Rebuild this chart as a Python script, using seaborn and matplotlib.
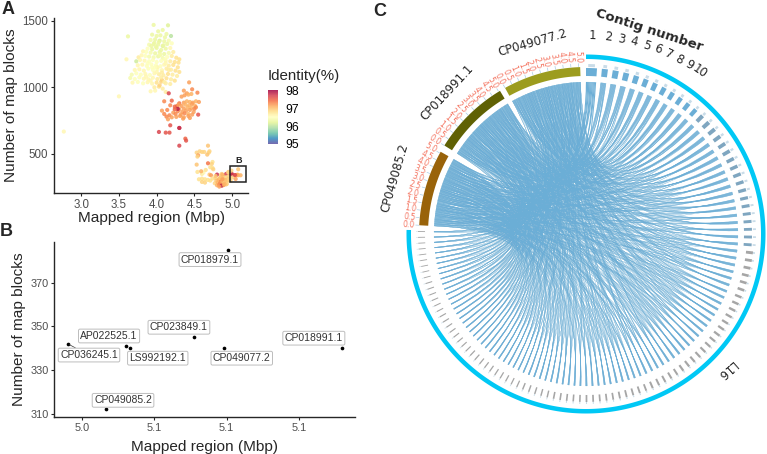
import numpy as np
import pandas as pd
import matplotlib
matplotlib.use("Agg")
import matplotlib.pyplot as plt
from matplotlib.cm import ScalarMappable
from matplotlib.colors import Normalize
from matplotlib.patches import PathPatch, Rectangle
from matplotlib.path import Path as MplPath
import seaborn as sns

W, H = 767, 454

# ── Panel A data: one point per assembly ──

mapped_yellow = [
    3.96, 4.15, 4.02, 4.08, 4.13, 3.94, 4.00, 4.05, 4.11, 4.19,
    3.62, 3.92, 3.98, 4.04, 4.10, 4.16, 3.90, 3.96, 4.02, 4.08,
    4.14, 4.20, 3.88, 3.94, 4.00, 4.06, 4.12, 4.18, 3.82, 3.86,
    3.92, 3.98, 4.04, 4.10, 4.16, 4.22, 3.76, 3.80, 3.85, 3.90,
    3.96, 4.02, 4.08, 4.14, 4.20, 4.26, 4.30, 3.60, 3.73, 3.78,
    3.84, 3.90, 3.95, 4.00, 4.06, 4.12, 4.18, 4.24, 4.29, 3.75,
    3.81, 3.87, 3.93, 3.99, 4.05, 4.10, 4.16, 4.22, 4.28, 3.71,
    3.77, 3.83, 3.89, 3.95, 4.01, 4.07, 4.13, 4.19, 4.25, 4.30,
    3.67, 3.73, 3.79, 3.85, 3.91, 3.97, 4.03, 4.09, 4.15, 4.21,
    4.27, 3.65, 3.71, 3.77, 3.83, 3.89, 3.95, 4.01, 4.07, 4.13,
    4.19, 4.24, 3.68, 3.75, 3.82, 3.88, 3.94, 4.00, 4.06, 4.12,
    4.18, 3.97, 4.03, 3.92, 3.98, 4.08, 4.12, 3.50, 2.77, 4.04,
    3.97, 4.03, 4.09, 3.93, 3.99, 4.05, 4.11, 4.01, 4.07, 3.88,
    3.94, 4.00, 4.06, 4.12, 3.86, 3.92, 3.98, 4.04, 4.10, 4.16,
]
blocks_yellow = [
    1468, 1465, 1420, 1430, 1400, 1395, 1385, 1390, 1375, 1385,
    1382, 1355, 1360, 1350, 1345, 1350, 1320, 1325, 1320, 1310,
    1325, 1330, 1290, 1285, 1295, 1280, 1290, 1295, 1270, 1265,
    1260, 1255, 1265, 1250, 1258, 1265, 1225, 1240, 1235, 1230,
    1225, 1232, 1220, 1228, 1235, 1222, 1210, 1210, 1195, 1205,
    1200, 1195, 1205, 1190, 1198, 1200, 1195, 1190, 1185, 1165,
    1170, 1160, 1172, 1165, 1158, 1170, 1162, 1168, 1150, 1130,
    1135, 1125, 1140, 1130, 1135, 1128, 1140, 1132, 1125, 1115,
    1095, 1105, 1095, 1100, 1092, 1105, 1098, 1090, 1100, 1095,
    1085, 1070, 1062, 1075, 1065, 1060, 1072, 1062, 1055, 1068,
    1060, 1050, 1035, 1040, 1030, 1038, 1028, 1035, 1042, 1030,
    1025, 1000, 1005, 970, 975, 990, 965, 932, 668, 1015,
    1335, 1340, 1315, 1310, 1305, 1245, 1210, 1150, 1110, 1180,
    1150, 1115, 1075, 1180, 1080, 1050, 1150, 1240, 1040, 1130,
]
identity_yellow = [
    96.3, 96.2, 96.3, 96.3, 96.3, 96.3, 96.3, 96.3, 96.3, 96.0,
    96.3, 96.4, 96.3, 96.2, 96.3, 96.4, 96.4, 96.3, 96.3, 96.2,
    96.3, 96.5, 96.5, 96.3, 96.3, 96.3, 96.3, 96.6, 96.6, 96.5,
    96.4, 96.3, 96.3, 96.3, 96.4, 96.7, 96.7, 96.6, 96.5, 96.4,
    96.4, 96.3, 96.4, 96.5, 96.7, 96.8, 96.8, 96.6, 96.1, 96.6,
    96.6, 96.5, 96.5, 96.5, 96.5, 96.6, 96.7, 96.8, 96.8, 96.6,
    96.6, 96.5, 96.5, 96.5, 96.5, 96.6, 96.7, 96.8, 96.8, 96.6,
    96.6, 96.6, 96.5, 96.5, 96.5, 96.6, 96.7, 96.7, 96.8, 96.8,
    96.4, 96.5, 96.5, 96.6, 96.5, 96.6, 96.7, 96.7, 96.8, 96.7,
    96.7, 96.4, 96.5, 96.5, 96.6, 96.6, 96.6, 96.7, 96.9, 96.8,
    96.7, 96.8, 96.6, 96.5, 96.5, 96.6, 96.6, 96.8, 96.9, 96.7,
    96.7, 96.7, 96.8, 96.6, 96.6, 96.7, 96.7, 96.6, 96.6, 96.9,
    96.3, 96.3, 96.3, 96.3, 96.3, 96.4, 96.5, 96.6, 96.7, 96.5,
    96.5, 96.6, 96.7, 96.6, 96.6, 96.6, 96.5, 96.4, 96.7, 96.7,
]

mapped_orange = [
    4.43, 4.36, 4.40, 4.47, 4.46, 4.16, 4.37, 4.54, 4.33, 4.42,
    4.10, 4.20, 4.30, 4.36, 4.40, 4.44, 4.48, 4.52, 4.56, 4.27,
    4.18, 4.24, 4.33, 4.38, 4.43, 4.47, 4.51, 4.30, 4.36, 4.41,
    4.46, 4.50, 4.07, 4.14, 4.22, 4.28, 4.34, 4.39, 4.44, 4.49,
    4.52, 4.17, 4.25, 4.32, 4.37, 4.42, 4.47, 4.55, 4.13, 4.20,
    4.26, 4.31, 4.36, 4.42, 4.18, 4.30, 4.03, 4.12, 4.17, 4.30,
    4.38, 4.39, 4.30, 4.28, 4.35, 4.44, 4.24, 4.10, 4.15, 4.29,
]
blocks_orange = [
    1037, 975, 955, 985, 950, 955, 940, 960, 930, 945,
    895, 900, 880, 885, 895, 890, 885, 895, 890, 860,
    865, 855, 860, 870, 865, 875, 860, 835, 840, 850,
    845, 838, 825, 830, 810, 820, 815, 825, 830, 815,
    850, 790, 800, 795, 805, 800, 795, 795, 780, 775,
    778, 785, 775, 785, 715, 695, 665, 660, 660, 695,
    615, 600, 562, 838, 765, 770, 835, 800, 760, 870,
]
identity_orange = [
    97.2, 97.2, 97.2, 97.3, 97.1, 97.7, 97.2, 97.3, 97.2, 97.1,
    97.3, 97.5, 97.4, 97.2, 97.1, 97.1, 97.2, 97.1, 97.2, 97.4,
    97.3, 97.5, 97.2, 97.1, 97.1, 97.2, 97.1, 97.2, 97.2, 97.1,
    97.1, 97.3, 97.2, 97.3, 97.2, 97.3, 97.2, 97.2, 97.2, 97.2,
    97.3, 97.3, 97.3, 97.2, 97.3, 97.1, 97.2, 97.6, 97.3, 97.2,
    97.2, 97.2, 97.2, 97.2, 97.6, 97.8, 97.7, 97.6, 97.6, 97.8,
    97.5, 97.6, 97.7, 97.9, 97.2, 97.2, 97.5, 97.3, 97.2, 97.2,
]

mapped_low = [
    4.68, 4.70, 4.53, 4.57, 4.60, 4.63, 4.69, 4.67, 4.55, 4.54,
    4.74, 4.73, 4.71, 4.74, 4.53, 4.68, 4.75, 4.54, 4.60, 4.62,
    4.70, 4.59, 4.65, 4.72, 4.56, 4.60, 4.64, 4.68, 4.71, 4.74,
    4.60, 4.64, 4.80, 4.85, 4.88, 4.92, 4.97, 5.00, 4.99, 4.78,
    4.77, 4.95, 4.88, 4.86, 4.78, 4.83, 4.86, 4.89, 4.92, 4.95,
    4.97, 4.79, 4.82, 4.85, 4.88, 4.91, 4.94, 4.97, 4.81, 4.84,
    4.87, 4.90, 4.93, 4.96, 4.80, 4.83, 4.86, 4.89, 4.92, 4.84,
    4.87, 4.90, 4.93, 4.99, 5.01, 4.95, 4.98, 4.87, 4.90, 4.83,
]
blocks_low = [
    562, 520, 510, 520, 515, 515, 510, 495, 490, 480,
    440, 425, 400, 395, 420, 430, 385, 365, 350, 360,
    345, 370, 380, 340, 310, 315, 310, 305, 300, 315,
    290, 285, 345, 340, 335, 350, 350, 345, 355, 320,
    280, 365, 265, 350, 335, 315, 320, 310, 325, 330,
    320, 300, 305, 295, 298, 302, 308, 300, 285, 280,
    290, 285, 295, 310, 265, 270, 262, 268, 272, 320,
    345, 305, 275, 375, 325, 360, 300, 310, 275, 255,
]
identity_low = [
    97.0, 96.9, 96.9, 96.9, 96.9, 96.9, 96.9, 97.0, 97.2, 96.9,
    96.8, 96.9, 96.8, 96.8, 97.0, 97.4, 96.9, 96.8, 96.7, 96.6,
    97.0, 97.1, 96.8, 97.2, 96.8, 96.8, 96.8, 96.8, 96.8, 96.8,
    96.9, 96.9, 97.8, 96.9, 97.0, 97.7, 97.4, 97.8, 97.8, 96.9,
    96.9, 97.0, 97.1, 96.9, 97.0, 96.9, 97.0, 97.1, 96.9, 96.9,
    96.9, 97.0, 97.1, 97.3, 97.0, 97.2, 97.0, 96.9, 97.1, 97.3,
    97.1, 96.9, 97.0, 96.9, 97.1, 97.3, 97.9, 97.2, 97.1, 97.0,
    97.1, 97.0, 96.9, 96.9, 96.9, 96.9, 96.9, 97.2, 97.1, 97.2,
]

# ── Panel B data: the boxed points of panel A ──

accessions = ["CP018979.1", "CP023849.1", "CP049077.2", "CP018991.1",
              "LS992192.1", "AP022525.1", "CP036245.1", "CP049085.2"]
mapped_box = [5.0803, 5.0709, 5.0794, 5.1118, 5.0533, 5.0522, 5.0361, 5.0467]
blocks_box = [385, 345, 340, 340, 340, 341, 342, 312]
identity_box = [97.0, 97.1, 97.1, 97.1, 97.1, 97.2, 97.7, 97.2]
label_offsets = [(-12.7, -7), (-10.6, 7.2), (12.5, -7.2), (-20, 7.2),
                 (20, -7.2), (-12.2, 7.2), (15.3, -8.1), (12.2, 6.5)]
box_ticks = [5.04, 5.06, 5.08, 5.10]

# ── Panel C data ───────────────────────────────────────────────

contig_len_kb = [
    190, 105, 105, 100, 95, 90, 88, 85, 82, 80,
    78, 75, 72, 72, 70, 68, 65, 65, 62, 60,
    60, 58, 58, 55, 55, 52, 52, 50, 50, 50,
    50, 48, 48, 45, 45, 45, 42, 42, 42, 40, 40, 40, 40, 38, 38,
    38, 38, 38, 38, 38, 35, 35, 35, 35, 35, 32, 32, 32, 32, 32, 30, 30, 30, 30, 30,
    28, 28, 28, 28, 28, 25, 25, 25, 25, 25, 22, 22, 22, 22, 22, 22, 22, 22, 22, 22,
    20, 20, 20, 20, 20, 20, 20, 20, 18, 18, 18, 18, 18, 18, 15, 15, 15, 15, 15, 15, 15, 15, 15,
]
pos_first = [
    12, 47, 83, 29, 66, 5, 91, 38, 74, 20,
    56, 2, 97, 33, 61, 15, 79, 44, 88, 25,
    70, 9, 52, 36, 94, 18, 63, 41, 85, 7,
    58, 27, 76, 14, 49, 99, 31, 68, 3, 82,
    22, 55, 90, 11, 43, 73, 35, 96, 16, 60,
    28, 80, 6, 51, 39, 87, 19, 65, 46, 93,
    24, 71, 10, 54, 34, 78, 1, 59, 42, 86,
    17, 67, 30, 95, 8, 48, 75, 23, 62, 37,
    89, 13, 57, 4, 81, 26, 69, 40, 98, 21,
    53, 77, 32, 64, 45, 84, 0, 50, 92, 72,
    19, 36, 58, 83, 11, 67, 44, 28,
]
pos_second = [
    71, 18, 40, 92, 7, 55, 26, 84, 33, 63,
    11, 78, 46, 97, 22, 59, 3, 88, 36, 69,
    15, 52, 81, 29, 64, 42, 95, 8, 74, 20,
    57, 35, 90, 13, 48, 76, 1, 61, 25, 86,
    38, 67, 10, 99, 31, 54, 80, 17, 44, 72,
    5, 93, 28, 60, 41, 85, 12, 50, 77, 23,
    66, 34, 96, 9, 56, 82, 19, 47, 70, 2,
    89, 30, 62, 14, 75, 39, 53, 94, 24, 58,
    6, 83, 43, 68, 16, 98, 32, 79, 51, 21,
    87, 37, 65, 4, 73, 27, 91, 45, 0, 60,
    49, 13, 86, 35, 70, 22, 55, 8,
]
pos_third = [
    33, 88, 5, 60, 21, 77, 44, 96, 13, 52,
    70, 27, 91, 38, 8, 65, 83, 17, 49, 2,
    75, 31, 58, 94, 11, 42, 68, 24, 86, 55,
    1, 79, 36, 63, 19, 90, 47, 6, 72, 29,
    98, 15, 56, 81, 34, 67, 9, 43, 89, 23,
    61, 76, 3, 50, 28, 93, 40, 12, 84, 57,
    18, 71, 37, 97, 26, 64, 45, 87, 7, 53,
    80, 14, 59, 32, 92, 20, 69, 41, 4, 78,
    48, 85, 10, 62, 35, 99, 25, 74, 16, 54,
    30, 95, 46, 66, 22, 82, 0, 39, 73, 51,
    12, 88, 34, 57, 6, 76, 42, 27,
]
ref_names = ["CP049085.2", "CP018991.1", "CP049077.2"]
ref_spans = [(273, 299.5), (302, 329), (331, 358)]
ref_colors = ["#99630A", "#5F6104", "#9C9C1E"]
ref_ticks = [0.0, 0.5, 1.0, 1.5, 2.0, 2.5, 3.0, 3.5, 4.0, 4.5, 5.0]
ref_length_mb = 5.1

CX, CY = 586, 234
CHORD_BLUE = "#6BAED6"
GAP_DEG = 1.7


def rect(left, top, right, bottom):
    """Axes rectangle from pixel edges of the picture."""
    return [left / W, 1 - bottom / H, (right - left) / W, (bottom - top) / H]


def xy(theta, r):
    """Clockwise degrees from the top to picture pixels."""
    t = np.radians(theta)
    return CX + r * np.sin(t), CY - r * np.cos(t)


def arc_band(ax, start, end, r_in, r_out, **kw):
    th = np.linspace(start, end, max(int(abs(end - start) * 2), 2))
    xo, yo = xy(th, r_out)
    xi, yi = xy(th[::-1], r_in)
    ax.fill(np.r_[xo, xi], np.r_[yo, yi], **kw)


def ribbon(a1, a2, b1, b2, r=152):
    """Chord outline from arc a1..a2 to arc b1..b2, bent through the centre."""
    pts = [xy(a1, r), xy(a2, r), (CX, CY), xy(b1, r), xy(b2, r), (CX, CY), xy(a1, r)]
    codes = [MplPath.MOVETO, MplPath.LINETO, MplPath.CURVE3, MplPath.CURVE3,
             MplPath.LINETO, MplPath.CURVE3, MplPath.CURVE3]
    return MplPath(pts, codes)


# ── Panels ─────────────────────────────────────────────────────

def plot_overview(fig):
    ax = fig.add_axes(rect(54, 18, 248, 193))
    df = pd.DataFrame({
        "mapped": mapped_yellow + mapped_orange + mapped_low + mapped_box,
        "blocks": blocks_yellow + blocks_orange + blocks_low + blocks_box,
        "identity": identity_yellow + identity_orange + identity_low + identity_box,
    })
    sns.scatterplot(data=df, x="mapped", y="blocks", hue="identity", palette="Spectral_r",
                    hue_norm=(95, 98.05), s=9, linewidth=0, alpha=0.85, legend=False, ax=ax)
    ax.set_xlim(2.64, 5.21)
    ax.set_ylim(207, 1520)
    ax.set_xticks([3.0, 3.5, 4.0, 4.5, 5.0])
    ax.set_yticks([500, 1000, 1500])
    ax.set_xlabel("Mapped region (Mbp)", fontsize=11.1, labelpad=0)
    ax.set_ylabel("Number of map blocks", fontsize=11.1, labelpad=3)
    ax.tick_params(labelsize=8.3, labelcolor="#4D4D4D", length=2.5, width=0.8, pad=1.5)
    ax.add_patch(Rectangle((4.97, 288), 0.22, 122, fill=False, edgecolor="#222222", lw=1.1))
    ax.text(5.08, 420, "B", ha="center", va="bottom", fontsize=6.5, fontweight="bold", color="#222222")
    sns.despine(ax=ax)

    cax = fig.add_axes(rect(268, 90, 278, 144))
    sm = ScalarMappable(Normalize(95, 98.05), plt.get_cmap("Spectral_r"))
    cb = fig.colorbar(sm, cax=cax, ticks=[95, 96, 97, 98], alpha=0.85)
    cb.outline.set_visible(False)
    cb.ax.tick_params(labelsize=8.8, length=0, pad=5, labelcolor="black")
    fig.text(268 / W, 1 - 76 / H, "Identity(%)", fontsize=10.9, va="center", ha="left")


def plot_box(fig):
    ax = fig.add_axes(rect(54, 242, 355, 417))
    sns.scatterplot(x=mapped_box, y=blocks_box, color="black", s=7, linewidth=0, ax=ax)
    ax.set_xlim(5.0323, 5.1155)
    ax.set_ylim(308.5, 388.6)
    ax.set_xticks(box_ticks)
    ax.set_xticklabels([f"{t:.1f}" for t in box_ticks])
    ax.set_yticks([310, 330, 350, 370])
    ax.set_xlabel("Mapped region (Mbp)", fontsize=11.1, labelpad=5)
    ax.set_ylabel("Number of map blocks", fontsize=11.1, labelpad=3)
    ax.tick_params(labelsize=7.8, labelcolor="#4D4D4D", length=2.5, width=0.8, pad=1.5)
    for name, mx, bl, off in zip(accessions, mapped_box, blocks_box, label_offsets):
        ax.annotate(name, (mx, bl), xytext=off, textcoords="offset points",
                    ha="center", va="center", fontsize=7.5, color="#333333",
                    bbox=dict(boxstyle="round,pad=0.18,rounding_size=0.15", fc="white", ec="#BDBDBD", lw=0.7),
                    arrowprops=dict(arrowstyle="-", color="#333333", lw=0.5, shrinkA=0, shrinkB=1)
                    if name == "CP036245.1" else None)
    sns.despine(ax=ax)


def plot_circos(fig):
    ax = fig.add_axes([0, 0, 1, 1], zorder=-1)
    ax.set_xlim(0, W)
    ax.set_ylim(H, 0)
    ax.axis("off")

    lens = np.array(contig_len_kb, dtype=float)
    scale = (271 - GAP_DEG * (len(lens) - 1)) / lens.sum()
    widths = lens * scale
    starts = np.r_[0, np.cumsum(widths + GAP_DEG)[:-1]]

    # every contig aligns in blocks to each reference, chords go first so the tracks stay on top
    pos_lists = [pos_first, pos_second, pos_third]
    for j, span in enumerate(ref_spans):
        hits = [(pos_lists[(j + k) % 3][i], i, j * 3 + k) for k in range(3) for i in range(len(lens))]
        hits.sort(key=lambda h: (h[0], h[1]))
        deg_per_kb = (span[1] - span[0]) / (3 * lens.sum())
        cursor = span[0]
        for _, i, slot in hits:
            w = lens[i] * deg_per_kb
            a1 = starts[i] + widths[i] * slot / 9
            a2 = starts[i] + widths[i] * (slot + 1) / 9
            ax.add_patch(PathPatch(ribbon(a1, a2, cursor + w * 0.09, cursor + w * 0.91),
                                   fc=CHORD_BLUE, ec=CHORD_BLUE, lw=0.08))
            cursor += w

    # L16 ring and its contigs
    arc_band(ax, 0, 271.3, 175, 179.5, color="#00C8F5", lw=0)
    for i, (s, w) in enumerate(zip(starts, widths)):
        if i < 12:
            col = CHORD_BLUE
        elif i < 30:
            col = "#7FA6C0"
        else:
            col = "#A6A6A6"
        arc_band(ax, s, s + w, 158 if i < 30 else 161, 166 if i < 30 else 168, color=col, lw=0)
        mid = s + w / 2
        arc_band(ax, mid - w * 0.3, mid + w * 0.3, 167 if i < 30 else 168, 170, color="#C9DCE8", lw=0)

    # reference genomes with their Mbp scale
    for name, span, color in zip(ref_names, ref_spans, ref_colors):
        arc_band(ax, span[0], span[1], 158, 167, color=color, lw=0)
        for tick in ref_ticks:
            th = span[0] + (span[1] - span[0]) * tick / ref_length_mb
            (x0, y0), (x1, y1) = xy(th, 167.5), xy(th, 170.5)
            ax.plot([x0, x1], [y0, y1], color="#A9CCE3", lw=0.5)
            tx, ty = xy(th, 171.5)
            ax.text(tx, ty, f"{tick:.1f}", fontsize=5.5, color="#F4735F", rotation=270 - th,
                    rotation_mode="anchor", ha="right", va="center", family="DejaVu Sans")

    kw = dict(ha="center", va="center", family="DejaVu Sans")
    ax.text(395, 178, ref_names[0], fontsize=8.5, rotation=74, **kw)
    ax.text(447, 93, ref_names[1], fontsize=8.5, rotation=47, **kw)
    ax.text(533, 43, ref_names[2], fontsize=8.5, rotation=16, **kw)
    ax.text(649, 30, "Contig number", fontsize=9.6, fontweight="bold", rotation=-18, **kw)
    for i in range(10):
        tx, ty = xy(starts[i] + widths[i] / 2, 198)
        ax.text(tx, ty, str(i + 1), fontsize=8.5, rotation=-(starts[i] + widths[i] / 2), **kw)
    ax.text(726, 370, "L16", fontsize=8.5, rotation=221, **kw)


sns.set_theme(style="ticks")
plt.rcParams["font.family"] = ["Liberation Sans", "DejaVu Sans"]
plt.rcParams["axes.linewidth"] = 1.0

fig = plt.figure(figsize=(W / 100, H / 100), dpi=100)
plot_circos(fig)
plot_overview(fig)
plot_box(fig)

for letter, px, py in [("A", 8, 9), ("B", 6, 232), ("C", 380, 11)]:
    fig.text(px / W, 1 - py / H, letter, fontsize=13, fontweight="bold", ha="center", va="center")

fig.savefig("out.png", dpi=100)
